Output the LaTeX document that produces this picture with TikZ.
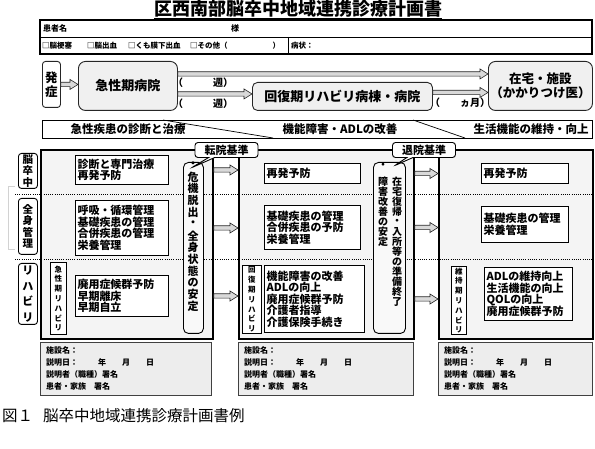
\documentclass[tikz,border=0pt]{standalone}
\usepackage{fontspec}
\setmainfont{Noto Sans CJK JP}
\usetikzlibrary{calc,shapes.callouts}

\newcommand{\fs}[2]{\fontsize{#1}{#2}\selectfont\lineskiplimit=-20pt\relax}
\newcommand{\fatarrow}[2]{%
  \draw[fatarr] let \p1=#1, \p2=#2 in
    ({\x1},{\y1+2.2pt}) -- ({\x2-8pt},{\y1+2.2pt}) -- ({\x2-8pt},{\y1+5pt})
    -- ({\x2},{\y1}) -- ({\x2-8pt},{\y1-5pt}) -- ({\x2-8pt},{\y1-2.2pt})
    -- ({\x1},{\y1-2.2pt}) -- cycle;}
\newcommand{\infolines}{施設名：\\説明日：\hspace{20pt}年\hspace{16pt}月\hspace{16pt}日\\説明者（職種）署名\\患者・家族　署名}

\tikzset{
  fatarr/.style={draw=black!85, line width=0.6pt, fill=gray!30},
  flowbox/.style={draw=black!85, line width=0.9pt, fill=gray!12, rounded corners=7pt,
    inner sep=0pt, anchor=north west, align=center, font=\fs{13}{14}\bfseries},
  lbl/.style={anchor=west, inner sep=0pt, font=\fs{10}{12}\bfseries},
  bandtext/.style={inner sep=0pt, font=\fs{11.5}{13}\bfseries},
  panel/.style={draw, line width=1.8pt, fill=gray!9, anchor=north west, inner sep=0pt},
  side/.style={draw, line width=0.9pt, fill=white, rounded corners=3pt, anchor=north west,
    inner sep=0pt, minimum width=19pt, align=center, font=\fs{10.5}{11.5}\bfseries},
  cbox/.style={draw, line width=1pt, fill=white, anchor=north west, inner xsep=2pt,
    inner ysep=0pt, align=left, font=\fs{11}{11.5}\bfseries},
  vbox/.style={draw, line width=0.9pt, fill=white, anchor=north west, inner sep=0pt,
    align=center, font=\fs{7.5}{9.8}\bfseries},
  crit/.style={draw, line width=0.9pt, fill=gray!5, rounded corners=5pt, anchor=north west,
    inner sep=0pt},
  vch/.style={inner sep=0pt},
  tag/.style={rectangle callout, draw, line width=0.9pt, fill=white, rounded corners=3pt,
    inner sep=0pt, minimum width=63pt, minimum height=15pt, callout pointer width=6pt,
    font=\fs{11}{12}\bfseries},
  infobox/.style={draw=black!75, line width=1pt, fill=gray!14, anchor=north west, inner sep=0pt},
  infotext/.style={anchor=north west, align=left, inner sep=0pt, font=\fs{8}{12}\bfseries},
  ptext/.style={anchor=west, inner sep=0pt, font=\fs{8}{10}\bfseries}
}

\begin{document}
\begin{tikzpicture}[x=1pt,y=-1pt]
\useasboundingbox (0,0) rectangle (595,449);

% title and patient data
\node[inner sep=0pt, font=\fs{18}{20}\bfseries] (title) at (298,9) {区西南部脳卒中地域連携診療計画書};
\draw[line width=0.9pt] ([yshift=-1pt]title.south west) -- ([yshift=-1pt]title.south east);
\draw[line width=1.4pt] (40,20) rectangle (592,54);
\draw[line width=0.8pt] (40,37) -- (592,37) (288,37) -- (288,54);
\node[ptext] (pname) at (43,28.5) {患者名};
\node[ptext] (psama) at (231,28.5) {様};
\node[ptext, font=\fs{7.5}{10}\bfseries] (ptype) at (42,45.5)
  {□脳梗塞\hspace{15pt}□脳出血\hspace{11pt}□くも膜下出血\hspace{9.5pt}□その他（\hspace{45pt}）};
\node[ptext, font=\fs{7.5}{10}\bfseries] (pstate) at (291,45.5) {病状：};

% flow
\node[flowbox, fill=white, rounded corners=3pt, minimum width=18pt, minimum height=46pt,
  font=\fs{12.5}{14}\bfseries] (onset) at (42,61) {発\\症};
\node[flowbox, minimum width=99pt, minimum height=49pt] (acute) at (78,61) {急性期病院};
\node[flowbox, rounded corners=5pt, minimum width=180pt, minimum height=28pt] (recov) at (252,82) {回復期リハビリ病棟・病院};
\node[flowbox, minimum width=104pt, minimum height=49pt, font=\fs{12.5}{13.5}\bfseries] (home) at (488,61) {在宅・施設\\（かかりつけ医）};

\fatarrow{(onset.east)}{(acute.west)}
\fatarrow{([yshift=12pt]acute.east)}{(home.west)}
\fatarrow{([yshift=-8pt]acute.east)}{(recov.west)}
\fatarrow{([yshift=4pt]recov.east)}{(home.west)}

\node[lbl] (wk1) at (173,83) {（　　　週）};
\node[lbl] (wk2) at (173,104) {（　　　週）};
\node[lbl] (mon) at (430,103) {（　　ヵ月）};

% phases
\draw[line width=0.9pt] (42,120) rectangle (592,138);
\draw[line width=0.7pt] (163,120) -- (273,138) (413,120) -- (465,138);
\node[bandtext] (ph1) at (128,129) {急性疾患の診断と治療};
\node[bandtext] (ph2) at (340,129) {機能障害・ADLの改善};
\node[bandtext] (ph3) at (531,129) {生活機能の維持・向上};

% panels
\node[panel, minimum width=172pt, minimum height=189pt] (p1) at (40,149) {};
\node[panel, minimum width=175pt, minimum height=189pt] (p2) at (238,149) {};
\node[panel, minimum width=154pt, minimum height=189pt] (p3) at (438,149) {};
\draw[line width=0.9pt, dash pattern=on 1pt off 1.2pt] (15,194) -- (592,194) (15,259) -- (592,259);

\draw[gray!35, line width=1pt] (15,187) -- (8,187) -- (8,250) -- (15,250);
\node[side, minimum height=35pt] (sstroke) at (18,153) {脳\\卒\\中};
\node[side, minimum height=56pt] (sbody) at (18,198) {全\\身\\管\\理};
\node[side, minimum height=61pt, font=\fs{11}{15.5}\bfseries] (srehab) at (18,263) {リ\\ハ\\ビ\\リ};

% acute phase
\node[cbox, text width=89pt, minimum height=29pt] (a1) at (75,155) {診断と専門治療\\再発予防};
\node[cbox, text width=89pt, minimum height=55pt] (a2) at (75,200) {呼吸・循環管理\\基礎疾患の管理\\合併疾患の管理\\栄養管理};
\node[vbox, minimum width=16pt, minimum height=72pt] (ar) at (50,262) {急\\性\\期\\リ\\ハ\\ビ\\リ};
\node[cbox, text width=89pt, minimum height=41pt] (a3) at (75,275) {廃用症候群予防\\早期離床\\早期自立};
\node[crit, minimum width=20pt, minimum height=171pt] (crit1) at (183,162) {};
\foreach \ch [count=\i from 0] in {・,危,機,脱,出,・,全,身,状,態,の,安,定}
  \node[vch, font=\fs{11}{12}\bfseries] (k\i) at (193,{165+11.8*\i}) {\ch};

% recovery phase
\node[cbox, text width=92pt, minimum height=20pt] (b1) at (264,163) {再発予防};
\node[cbox, text width=92pt, minimum height=44pt] (b2) at (264,205) {基礎疾患の管理\\合併疾患の予防\\栄養管理};
\node[vbox, minimum width=19pt, minimum height=68pt] (br) at (242,265) {回\\復\\期\\リ\\ハ\\ビ\\リ};
\node[cbox, text width=96pt, minimum height=67pt] (b3) at (264,265) {機能障害の改善\\ADLの向上\\廃用症候群予防\\介護者指導\\介護保険手続き};
\node[crit, minimum width=32pt, minimum height=171pt] (crit2) at (373,162) {};
\node[vch, font=\fs{10}{11}\bfseries] (ul) at (383,166) {・};
\foreach \ch [count=\i from 0] in {障,害,改,善,の,安,定}
  \node[vch, font=\fs{10}{11}\bfseries] (u\i) at (383,{182+10*\i}) {\ch};
\foreach \ch [count=\i from 0] in {在,宅,復,帰,・,入,所,等,の,準,備,終,了}
  \node[vch, font=\fs{10}{11}\bfseries] (v\i) at (397,{182+10*\i}) {\ch};

% maintenance phase
\node[cbox, text width=83pt, minimum height=20pt] (c1) at (481,163) {再発予防};
\node[cbox, text width=83pt, minimum height=36pt] (c2) at (481,206) {基礎疾患の管理\\栄養管理};
\node[vbox, minimum width=15pt, minimum height=68pt] (cr) at (451,266) {維\\持\\期\\リ\\ハ\\ビ\\リ};
\node[cbox, text width=84pt, minimum height=53pt] (c3) at (484,267) {ADLの維持向上\\生活機能の向上\\QOLの向上\\廃用症候群予防};

% criteria tags
\coordinate (tip1) at (191,168);
\coordinate (tip2) at (394,166);
\node[tag, callout absolute pointer=(tip1)] (tenin) at (226.5,150) {転院基準};
\node[tag, callout absolute pointer=(tip2)] (taiin) at (424,150) {退院基準};

% transfers
\fatarrow{(a1.east -| p1.east)}{(p2.west)}
\fatarrow{(a2.east -| p1.east)}{(p2.west)}
\fatarrow{(a3.east -| p1.east)}{(p2.west)}
\fatarrow{(b1.east -| p2.east)}{(p3.west)}
\fatarrow{(b2.east -| p2.east)}{(p3.west)}
\fatarrow{(b3.east -| p2.east)}{(p3.west)}

% signatures
\node[infobox, minimum width=171pt, minimum height=53pt] (d1) at (40,342) {};
\node[infobox, minimum width=175pt, minimum height=53pt] (d2) at (238,342) {};
\node[infobox, minimum width=154pt, minimum height=53pt] (d3) at (438,342) {};
\node[infotext] (t1) at ([shift={(6pt,-4pt)}]d1.north west) {\infolines};
\node[infotext] (t2) at ([shift={(6pt,-4pt)}]d2.north west) {\infolines};
\node[infotext] (t3) at ([shift={(6pt,-4pt)}]d3.north west) {\infolines};

\node[anchor=west, inner sep=0pt, font=\fs{15.5}{17}] (cap) at (2,416) {図１\hspace{10pt}脳卒中地域連携診療計画書例};
\end{tikzpicture}
\end{document}
